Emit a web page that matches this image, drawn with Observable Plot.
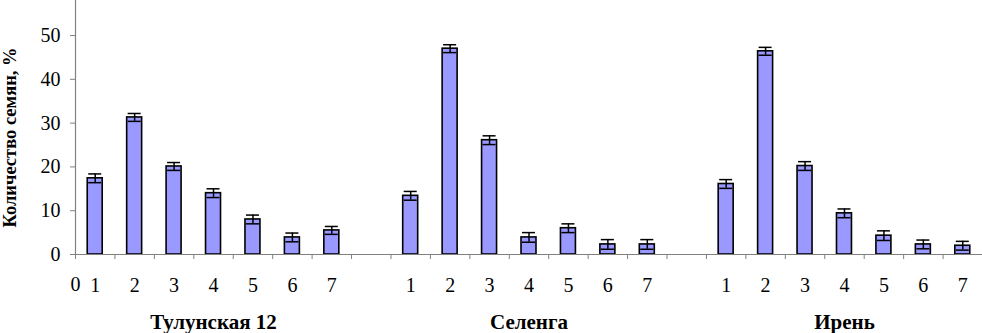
<!DOCTYPE html>
<html>
<head>
<meta charset="utf-8">
<script src="https://cdn.jsdelivr.net/npm/d3@7"></script>
<script src="https://cdn.jsdelivr.net/npm/@observablehq/plot@0.6"></script>
<style>
  html, body { margin: 0; padding: 0; background: #fff; }
  #chart svg { display: block; }
  #chart svg, #chart svg text { font-family: "Liberation Serif", "DejaVu Serif", serif !important; }
</style>
</head>
<body>
<div id="chart"></div>
<script>
// ---- data ----
const groups = ["Тулунская 12", "Селенга", "Ирень"];
const classes = ["1", "2", "3", "4", "5", "6", "7"];
const tulunValues  = [17.4, 31.3, 20.1, 14.0, 8.0, 3.9, 5.5];
const tulunErrors  = [1.0, 0.9, 0.9, 1.0, 1.0, 1.0, 0.9];
const selengaValues = [13.4, 47.0, 26.1, 3.9, 6.0, 2.3, 2.3];
const selengaErrors = [1.0, 0.9, 1.0, 1.1, 1.0, 1.1, 1.1];
const irenValues   = [16.1, 46.4, 20.2, 9.4, 4.3, 2.3, 2.0];
const irenErrors   = [1.0, 0.9, 1.0, 1.0, 1.1, 1.0, 1.0];
const yTicks = [0, 10, 20, 30, 40, 50];
const yTitle = "Количество семян, %";
const originLabel = "0";

// ---- build table: 7 slots per group, 1 empty slot between groups ----
const seriesValues = [tulunValues, selengaValues, irenValues];
const seriesErrors = [tulunErrors, selengaErrors, irenErrors];
const rows = [];
groups.forEach((g, gi) => {
  classes.forEach((c, ci) => {
    const slot = gi * 8 + ci;
    rows.push({group: g, cls: c, pos: slot + 0.5, v: seriesValues[gi][ci], e: seriesErrors[gi][ci]});
  });
});
const nSlots = groups.length * 8 - 1;
const groupRows = groups.map((g, gi) => ({group: g, pos: gi * 8 + 3.5}));

const font = "Liberation Serif";
const axisGray = "#808080";
const halfBar = 0.19, halfCap = 0.165;

const chart = Plot.plot({
  width: 982,
  height: 333,
  marginLeft: 75,
  marginRight: 0,
  marginTop: 0,
  marginBottom: 79,
  style: {fontFamily: font, fontSize: "20px", color: "black", background: "white"},
  x: {domain: [0, nSlots], axis: null},
  y: {domain: [0, 58], axis: null},
  marks: [
    Plot.axisY({ticks: yTicks, tickSize: 5, tickPadding: 10, stroke: axisGray, fill: "black", fontSize: 20, fontFamily: font, label: null}),
    Plot.axisX({ticks: d3.range(0, nSlots + 1), tickSize: 5, tickPadding: 17, stroke: axisGray, fill: "black",
      fontSize: 20, fontFamily: font, tickFormat: d => d === 0 ? originLabel : "", label: null}),
    Plot.ruleX([0], {stroke: axisGray, strokeWidth: 1.2}),
    Plot.rectY(rows, {x1: d => d.pos - halfBar, x2: d => d.pos + halfBar, y1: 0, y2: "v",
      fill: "#9999FF", stroke: "black", strokeWidth: 1.6}),
    Plot.ruleY([0], {stroke: axisGray, strokeWidth: 1.2}),
    Plot.ruleX(rows, {x: "pos", y1: d => d.v - d.e, y2: d => d.v + d.e, stroke: "black", strokeWidth: 1.5}),
    Plot.ruleY(rows, {y: d => d.v + d.e, x1: d => d.pos - halfCap, x2: d => d.pos + halfCap, stroke: "black", strokeWidth: 1.5}),
    Plot.ruleY(rows, {y: d => d.v - d.e, x1: d => d.pos - halfCap, x2: d => d.pos + halfCap, stroke: "black", strokeWidth: 1.5}),
    Plot.text(rows, {x: "pos", y: 0, text: "cls", dy: 31, fontSize: 20, fontFamily: font, fill: "black"}),
    Plot.text(groupRows, {x: "pos", y: 0, text: "group", dy: 68, fontSize: 21, fontFamily: font, fontWeight: "bold", fill: "black"}),
    Plot.text([yTitle], {frameAnchor: "left", text: d => d, rotate: -90, textAnchor: "middle", dx: -65, dy: 10,
      fontSize: 18.5, fontFamily: font, fontWeight: "bold", fill: "black"})
  ]
});
document.getElementById("chart").appendChild(chart);
</script>
</body>
</html>
